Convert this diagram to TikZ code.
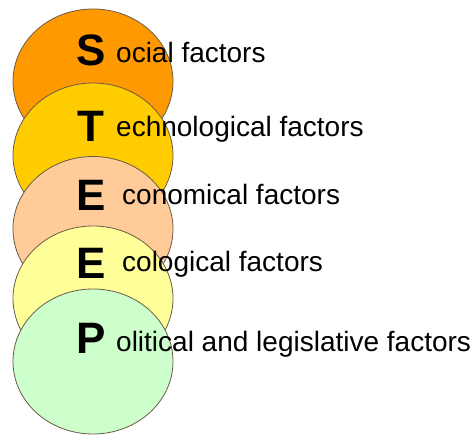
\documentclass[tikz,border=0pt]{standalone}
\usepackage{fontspec}
\setmainfont{Liberation Sans}
\usetikzlibrary{shapes.geometric}
\definecolor{cOrange}{HTML}{FF9900}
\definecolor{cGold}{HTML}{FFCC00}
\definecolor{cPeach}{HTML}{FFCC99}
\definecolor{cLYellow}{HTML}{FFFF99}
\definecolor{cLGreen}{HTML}{CCFFCC}
\definecolor{cEdge}{HTML}{6B5A45}
\tikzset{
  disc/.style={ellipse, draw=cEdge, line width=0.8pt, minimum width=160pt, minimum height=145pt, inner sep=0pt},
  initial/.style={anchor=base, inner sep=0pt, font=\fontsize{44}{46}\selectfont\bfseries},
  rest/.style={anchor=base west, inner sep=0pt, font=\fontsize{28}{30}\selectfont}
}
\begin{document}
\begin{tikzpicture}[x=1pt,y=-1pt]
\useasboundingbox (0,0) rectangle (476,435);
\node[disc, fill=cOrange]  (c1) at (93,81.5) {};
\node[disc, fill=cGold]    (c2) at (93,155.5) {};
\node[disc, fill=cPeach]   (c3) at (93,229) {};
\node[disc, fill=cLYellow] (c4) at (93,298.5) {};
\node[disc, fill=cLGreen]  (c5) at (93,361.5) {};
\node[initial] (l1) at (91,66) {S};
\node[initial] (l2) at (91,142) {T};
\node[initial] (l3) at (91,211) {E};
\node[initial] (l4) at (91,279) {E};
\node[initial] (l5) at (91,353) {P};
\node[rest] (t1) at (116,63) {ocial factors};
\node[rest] (t2) at (116,137) {echnological factors};
\node[rest] (t3) at (122,205) {conomical factors};
\node[rest] (t4) at (122,272) {cological factors};
\node[rest] (t5) at (116,351) {olitical and legislative factors};
\end{tikzpicture}
\end{document}
